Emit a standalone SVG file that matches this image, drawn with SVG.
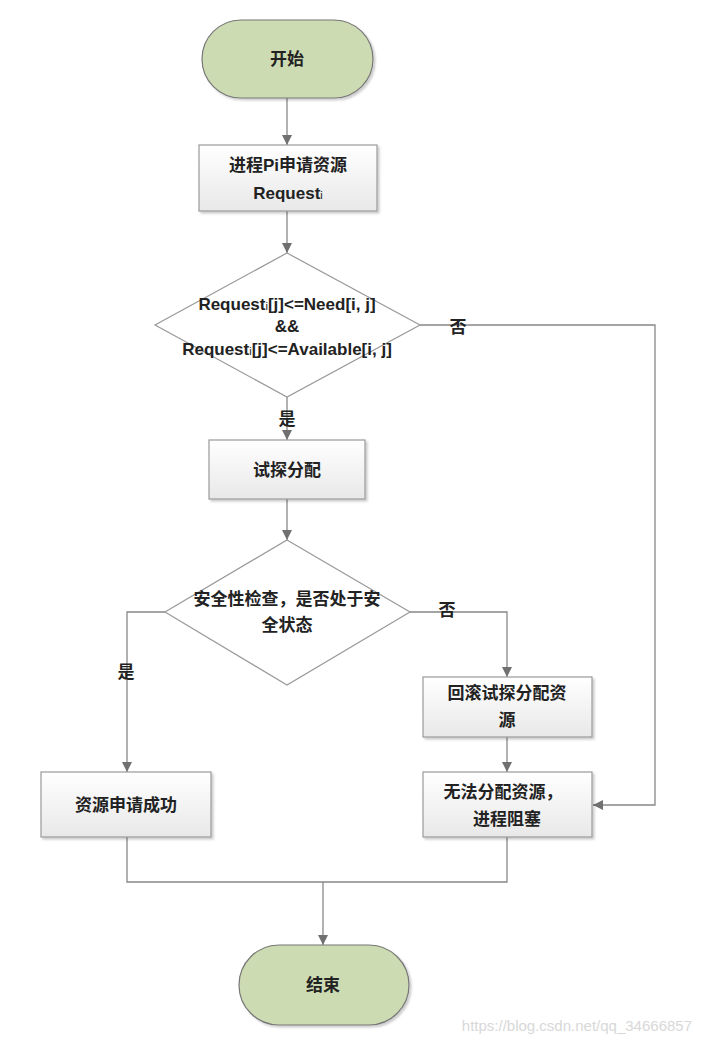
<svg xmlns="http://www.w3.org/2000/svg" width="702" height="1044" viewBox="0 0 702 1044">
<defs>
<linearGradient id="g" x1="0" y1="0" x2="0" y2="1"><stop offset="0" stop-color="#ffffff"/><stop offset="1" stop-color="#e8e8e8"/></linearGradient>
<marker id="a" viewBox="0 0 10 10" refX="10" refY="5" markerWidth="10" markerHeight="10" markerUnits="userSpaceOnUse" orient="auto"><path d="M0,0 L10,5 L0,10 z" fill="#707070"/></marker>
<filter id="s" x="-10%" y="-10%" width="130%" height="130%"><feDropShadow dx="2" dy="2" stdDeviation="1.2" flood-color="#000" flood-opacity="0.2"/></filter>
</defs>
<style>
.t{font-family:"Liberation Sans","Noto Sans CJK SC",sans-serif;font-size:17px;font-weight:bold;fill:#222;text-anchor:middle}
.s{font-size:11px;font-weight:normal}
.box{fill:url(#g);stroke:#999;stroke-width:1.2;filter:url(#s)}
.pill{fill:#cddbb3;stroke:#777;stroke-width:1.2;filter:url(#s)}
.dia{fill:#fff;stroke:#999;stroke-width:1.2}
.c{fill:none;stroke:#888;stroke-width:1.3}
.ca{fill:none;stroke:#888;stroke-width:1.3;marker-end:url(#a)}
</style>
<rect width="702" height="1044" fill="#fff"/>
<g id="connectors">
<path class="ca" d="M287,98 V145"/>
<path class="ca" d="M287,211 V253"/>
<path class="ca" d="M420,325 H655 V805 H593"/>
<path class="ca" d="M287,397 V440"/>
<path class="ca" d="M287,499 V540"/>
<path class="ca" d="M165,612 H127 V772"/>
<path class="ca" d="M410,612 H507 V677"/>
<path class="ca" d="M507,737 V772"/>
<path class="c" d="M127,837 V882 H507 V837"/>
<path class="ca" d="M323,882 V945"/>
</g>
<g id="start"><rect class="pill" x="202" y="20" width="171" height="78" rx="39"/><text class="t" x="287" y="65">开始</text></g>
<g id="request"><rect class="box" x="199" y="145" width="178" height="66"/><text class="t" x="288" y="171">进程Pi申请资源</text><text class="t" x="288" y="199">Request<tspan class="s">i</tspan></text></g>
<g id="check1"><polygon class="dia" points="287,253 420,325 287,397 155,325"/>
<text class="t" x="287" y="310">Request<tspan class="s">i</tspan>[j]&lt;=Need[i, j]</text>
<text class="t" x="287" y="332">&amp;&amp;</text>
<text class="t" x="287" y="355">Request<tspan class="s">i</tspan>[j]&lt;=Available[i, j]</text></g>
<text class="t" x="458" y="333">否</text>
<text class="t" x="287" y="425">是</text>
<g id="trial"><rect class="box" x="209" y="440" width="156" height="59"/><text class="t" x="287" y="476">试探分配</text></g>
<g id="safety"><polygon class="dia" points="287,540 410,612 287,685 165,612"/><text class="t" x="287" y="605">安全性检查，是否处于安</text><text class="t" x="287" y="631">全状态</text></g>
<text class="t" x="126" y="678">是</text>
<text class="t" x="447" y="616">否</text>
<g id="rollback"><rect class="box" x="423" y="677" width="169" height="60"/><text class="t" x="507" y="699">回滚试探分配资</text><text class="t" x="507" y="726">源</text></g>
<g id="success"><rect class="box" x="41" y="772" width="170" height="65"/><text class="t" x="126" y="811">资源申请成功</text></g>
<g id="block"><rect class="box" x="423" y="772" width="169" height="65"/><text class="t" x="503" y="798">无法分配资源，</text><text class="t" x="507" y="825">进程阻塞</text></g>
<g id="end"><rect class="pill" x="239" y="945" width="170" height="80" rx="40"/><text class="t" x="323" y="991">结束</text></g>
<text x="692" y="1031" font-family="Liberation Sans,sans-serif" font-size="15" fill="#d8d8d8" text-anchor="end">https://blog.csdn.net/qq_34666857</text>
</svg>
